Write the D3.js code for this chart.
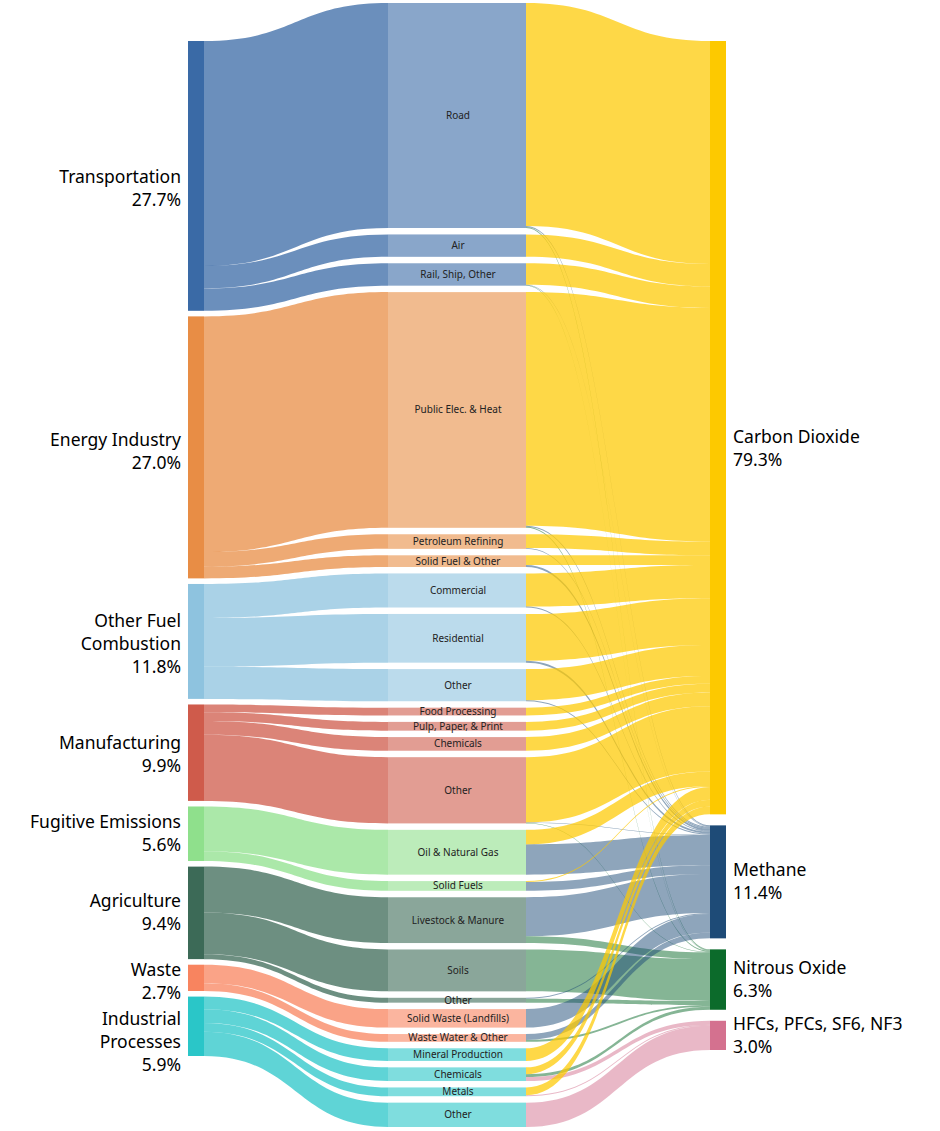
<!DOCTYPE html>
<html>
<head>
<meta charset="utf-8">
<script src="https://cdn.jsdelivr.net/npm/d3@7"></script>
<style>
  body { margin: 0; background: #fff; }
  svg { font-family: "Noto Sans", sans-serif; }
</style>
</head>
<body>
<svg id="chart" width="940" height="1131"></svg>
<script>
const sectors = ["Transportation", "Energy Industry", "Other Fuel Combustion", "Manufacturing",
  "Fugitive Emissions", "Agriculture", "Waste", "Industrial Processes"];
const sectorLabels = [["Transportation", "27.7%"], ["Energy Industry", "27.0%"], ["Other Fuel", "Combustion", "11.8%"],
  ["Manufacturing", "9.9%"], ["Fugitive Emissions", "5.6%"], ["Agriculture", "9.4%"], ["Waste", "2.7%"],
  ["Industrial", "Processes", "5.9%"]];
const labelShift = [12, 4, 2, 2, 0, 0, 4, 16];
const sectorColors = ["#3a6aa6", "#e88d45", "#8ec3df", "#cf5b4b", "#8fe08c", "#3c6a57", "#f8845f", "#2ac6c8"];

const gases = ["Carbon Dioxide", "Methane", "Nitrous Oxide", "HFCs, PFCs, SF6, NF3"];
const gasPercents = ["79.3%", "11.4%", "6.3%", "3.0%"];
const gasColors = ["#fdc900", "#1e4b77", "#0c6b2b", "#d4718f"];

// subsector name, sector index
const subsectors = [
  ["Road", 0], ["Air", 0], ["Rail, Ship, Other", 0],
  ["Public Elec. & Heat", 1], ["Petroleum Refining", 1], ["Solid Fuel & Other", 1],
  ["Commercial", 2], ["Residential", 2], ["Other", 2],
  ["Food Processing", 3], ["Pulp, Paper, & Print", 3], ["Chemicals", 3], ["Other", 3],
  ["Oil & Natural Gas", 4], ["Solid Fuels", 4],
  ["Livestock & Manure", 5], ["Soils", 5], ["Other", 5],
  ["Solid Waste (Landfills)", 6], ["Waste Water & Other", 6],
  ["Mineral Production", 7], ["Chemicals", 7], ["Metals", 7], ["Other", 7]
];
// % of total emissions per subsector: [CO2, CH4, N2O, F-gases]
const gasShares = [
  [22.9, 0.1, 0.1, 0], [2.3, 0, 0, 0], [2.2, 0.05, 0.05, 0],
  [24.0, 0.1, 0.1, 0], [1.4, 0.1, 0, 0], [1.0, 0.2, 0, 0],
  [3.4, 0.1, 0, 0], [4.8, 0.2, 0, 0], [3.2, 0.1, 0, 0],
  [0.8, 0, 0, 0], [0.9, 0, 0, 0], [1.4, 0, 0, 0], [6.7, 0.05, 0.05, 0],
  [1.5, 3.1, 0, 0], [0.1, 0.9, 0, 0],
  [0, 4.0, 0.7, 0], [0, 0, 4.3, 0], [0, 0.1, 0.4, 0],
  [0, 1.9, 0, 0], [0, 0.6, 0.2, 0],
  [1.3, 0, 0, 0], [0.7, 0, 0.3, 0.4], [0.8, 0, 0, 0.1], [0, 0, 0, 2.5]
];

const svg = d3.select("#chart");
const k = d3.scaleLinear().domain([0, 1]).range([0, 9.74]);

const xSector = 188, wNode = 16, xMidL = 388, xMidR = 526, xGas = 710;

const subTotals = gasShares.map(r => d3.sum(r));
const sectorTotals = sectors.map(() => 0);
subsectors.forEach((s, j) => sectorTotals[s[1]] += subTotals[j]);
const gasTotals = gases.map((_, g) => d3.sum(gasShares, r => r[g]));

function stack(values, y0, y1) {
  const gap = (y1 - y0 - d3.sum(values, v => k(v))) / (values.length - 1);
  let y = y0;
  return values.map(v => { const r = [y, y + k(v)]; y += k(v) + gap; return r; });
}
const sectorPos = stack(sectorTotals, 41, 1056);
const subPos = stack(subTotals, 3, 1127);
const gasPos = stack(gasTotals, 41, 1050);

function ribbon(x0, a0, a1, x1, b0, b1) {
  const xm = (x0 + x1) / 2;
  return `M${x0},${a0}C${xm},${a0} ${xm},${b0} ${x1},${b0}L${x1},${b1}C${xm},${b1} ${xm},${a1} ${x0},${a1}Z`;
}

// sector -> subsector links
const sectorCursor = sectorPos.map(p => p[0]);
const gLinks1 = svg.append("g");
subsectors.forEach((s, j) => {
  const i = s[1], h = k(subTotals[j]);
  const a0 = sectorCursor[i]; sectorCursor[i] += h;
  gLinks1.append("path")
    .attr("d", ribbon(xSector + wNode, a0, a0 + h, xMidL, subPos[j][0], subPos[j][1]))
    .attr("fill", sectorColors[i]).attr("fill-opacity", 0.75);
});

// subsector -> gas links
const gasCursor = gasPos.map(p => p[0]);
const gLinks2 = svg.append("g");
subsectors.forEach((s, j) => {
  let y = subPos[j][0];
  gasShares[j].forEach((v, g) => {
    if (!v) return;
    const h = k(v), b0 = gasCursor[g];
    gasCursor[g] += h;
    gLinks2.append("path")
      .attr("d", ribbon(xMidR, y, y + h, xGas, b0, b0 + h))
      .attr("fill", gasColors[g]).attr("fill-opacity", g === 0 ? 0.72 : 0.5);
    y += h;
  });
});

// subsector bars
const gSub = svg.append("g");
subsectors.forEach((s, j) => {
  gSub.append("rect")
    .attr("x", xMidL).attr("y", subPos[j][0])
    .attr("width", xMidR - xMidL).attr("height", subPos[j][1] - subPos[j][0])
    .attr("fill", sectorColors[s[1]]).attr("fill-opacity", 0.6);
  gSub.append("text")
    .attr("x", (xMidL + xMidR) / 2 + 1).attr("y", (subPos[j][0] + subPos[j][1]) / 2)
    .attr("dy", "0.35em").attr("text-anchor", "middle")
    .attr("font-size", 10).attr("fill", "#222").text(s[0]);
});

// sector nodes and labels
sectors.forEach((s, i) => {
  const [y0, y1] = sectorPos[i];
  svg.append("rect").attr("x", xSector).attr("y", y0).attr("width", wNode)
    .attr("height", y1 - y0).attr("fill", sectorColors[i]);
  const lines = sectorLabels[i];
  const t = svg.append("text").attr("text-anchor", "end").attr("font-size", 17.5).attr("fill", "#000");
  const yc = (y0 + y1) / 2 - (lines.length - 1) * 11.5 + labelShift[i];
  lines.forEach((l, n) => t.append("tspan").attr("x", 181).attr("y", yc + n * 23).attr("dy", "0.35em").text(l));
});

// gas nodes and labels
gases.forEach((g, i) => {
  const [y0, y1] = gasPos[i];
  svg.append("rect").attr("x", xGas).attr("y", y0).attr("width", wNode)
    .attr("height", y1 - y0).attr("fill", gasColors[i]);
  const t = svg.append("text").attr("font-size", 17.5).attr("fill", "#000");
  const yc = (y0 + y1) / 2 - 11.5 + (i === 0 ? 21 : 0);
  [g, gasPercents[i]].forEach((l, n) => t.append("tspan").attr("x", 733).attr("y", yc + n * 23).attr("dy", "0.35em").text(l));
});
</script>
</body>
</html>
